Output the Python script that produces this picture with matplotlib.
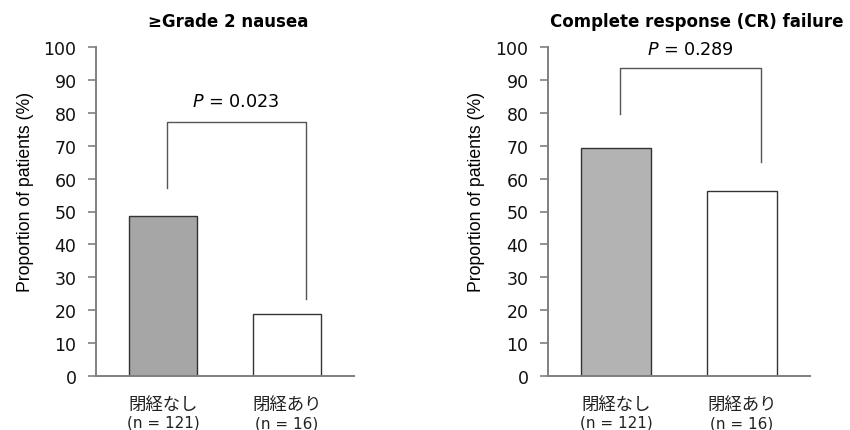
import matplotlib
matplotlib.use("Agg")
import matplotlib.pyplot as plt

# data
GROUPS = ["閉経なし", "閉経あり"]
GROUP_N = ["(n = 121)", "(n = 16)"]
TITLES = ["≥Grade 2 nausea", "Complete response (CR) failure"]
NAUSEA = [48.6, 18.8]
CR_FAILURE = [69.3, 56.2]
P_VALUES = ["0.023", "0.289"]
# bracket: (left leg bottom, top, right leg bottom)
BRACKETS = [(57, 77.2, 23.4), (79.6, 93.6, 65.0)]
P_TEXT_Y = [83.5, 99.5]

plt.rcParams["font.family"] = ["DejaVu Sans"]

fig = plt.figure(figsize=(8.5, 4.31), dpi=100)
W, H = 850, 431

panels = [
    (96, 354, NAUSEA, ["#a6a6a6", "white"], 228, 34),
    (548, 810, CR_FAILURE, ["#b3b3b3", "white"], 697, 485),
]

for i, (x0, x1, vals, colors, title_x, ylab_x) in enumerate(panels):
    ax = fig.add_axes([x0 / W, (H - 377) / H, (x1 - x0) / W, (377 - 48) / H])
    xs = [0, 1]
    ax.bar(xs, vals, width=0.55, color=colors, edgecolor="#333333", linewidth=1.0, zorder=2)
    ax.set_ylim(0, 100)
    ax.set_xlim(-0.54, 1.54)
    ax.set_yticks(range(0, 101, 10))
    ax.tick_params(axis="y", labelsize=12.5, length=6, width=1.2, color="#808080",
                   labelcolor="#111111", pad=8)
    ax.set_xticks([])
    for s in ["top", "right"]:
        ax.spines[s].set_visible(False)
    for s in ["left", "bottom"]:
        ax.spines[s].set_color("#808080")
        ax.spines[s].set_linewidth(1.4)
    ax.set_ylabel("Proportion of patients (%)", fontsize=12.7, family="Liberation Sans")
    ax.yaxis.set_label_coords((ylab_x - x0) / (x1 - x0), 0.562)

    lb, top, rb = BRACKETS[i]
    ax.plot([0.03, 0.03, 1.15, 1.15], [lb, top, top, rb], color="#555555", lw=1.0, clip_on=False)
    ax.text(0.59, P_TEXT_Y[i], f"$P$ = {P_VALUES[i]}", ha="center", va="center", fontsize=12.7)

    for x, g, n in zip(xs, GROUPS, GROUP_N):
        ax.text(x, -8.5, g, ha="center", va="center", fontsize=12.5,
                family=["Noto Sans CJK JP", "DejaVu Sans"], color="#222222")
        ax.text(x, -14.0 - 0.3 * x, n, ha="center", va="center", fontsize=11, color="#222222")

    fig.text(title_x / W, 1 - 22 / H, TITLES[i], ha="center", va="center",
             fontsize=12, fontweight="bold")

fig.savefig("out.png", dpi=100)
